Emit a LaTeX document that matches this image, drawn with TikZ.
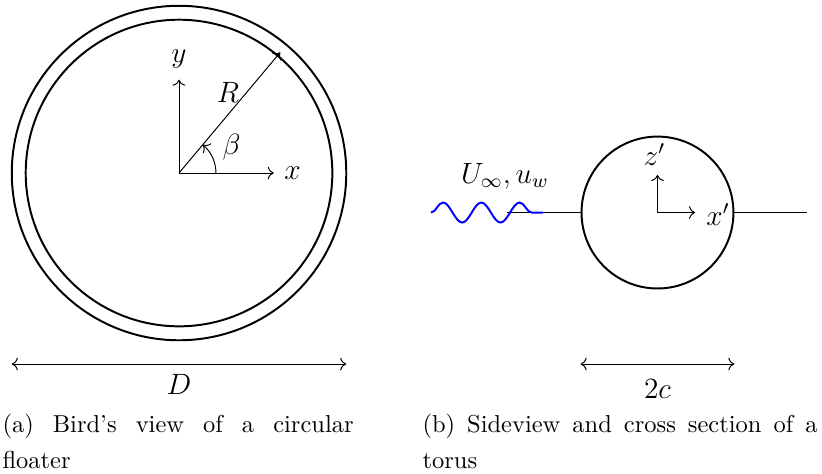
\documentclass[tikz,border=0pt]{standalone}
\usepackage{amsmath,amssymb}
\usetikzlibrary{arrows.meta, positioning, calc, decorations.pathmorphing}
\tikzset{
  ringline/.style={thick},
  axisarrow/.style={->},
  dimarrow/.style={<->},
  flowline/.style={thin},
  wavepath/.style={thick, blue, decorate,
                   decoration={snake, amplitude=0.1435cm, segment length=0.55cm}},
  symlabel/.style={inner sep=0pt, anchor=base, font=\large},
  axlabel/.style={font=\large},
  captext/.style={anchor=north west, inner sep=0pt, align=justify,
                  font={\fontsize{10}{14.6}\selectfont}}
}

\begin{document}
\begin{tikzpicture}
  \useasboundingbox (-2.569,-4.319) rectangle (9.227,2.483);

  % (a) bird's view of the floater
  \coordinate (O) at (0,0);
  \draw[ringline] (O) circle (2.40);
  \draw[ringline] (O) circle (2.20);
  \coordinate (yend) at (0,1.34);
  \coordinate (xend) at (1.36,0);
  \coordinate (Rend) at (50:2.26);
  \coordinate (betastart) at (0.53,0);
  \draw[axisarrow] (O) -- (yend);
  \draw[axisarrow] (O) -- (xend);
  \draw[axisarrow] (O) -- (Rend);
  \draw[axisarrow] (betastart) arc[start angle=0, end angle=50, radius=0.53];
  \node[axlabel] (ylab) at (0,1.636) {$y$};
  \node[axlabel] (xlab) at (1.629,0) {$x$};
  \node[axlabel] (Rlab) at (0.703,1.155) {$R$};
  \node[axlabel] (betalab) at (0.753,0.373) {$\beta$};

  \coordinate (Dleft) at (-2.40,-2.741);
  \coordinate (Dright) at (2.40,-2.741);
  \draw[dimarrow] (Dleft) -- (Dright);
  \node[symlabel] (Dlab) at (0,-3.185) {$D$};

  \node[captext, text width=5.04cm] (capA) at (-2.54,-3.452)
      {(a) Bird's view of a circular floater};

  % (b) sideview and cross section
  \node[circle, draw, thick, minimum size=2.18cm, inner sep=0pt] (torus) at (6.866,-0.567) {};
  \coordinate (inflow) at (4.707,-0.567);
  \coordinate (outflow) at (9.012,-0.567);
  \coordinate (wavestart) at (3.616,-0.567);
  \coordinate (waveend) at (5.223,-0.567);
  \draw[flowline] (inflow) -- (torus.west);
  \draw[flowline] (torus.east) -- (outflow);
  \draw[wavepath] (wavestart) -- (waveend);
  \node[symlabel] (Ulab) at (4.678,-0.1435) {$U_\infty, u_w$};

  \coordinate (zend) at ($(torus.center)+(0,0.54)$);
  \coordinate (xpend) at ($(torus.center)+(0.54,0)$);
  \draw[axisarrow] (torus.center) -- (zend);
  \draw[axisarrow] (torus.center) -- (xpend);
  \node[symlabel] (zlab) at (6.823,0.115) {$z'$};
  \node[symlabel] (xplab) at (7.735,-0.746) {$x'$};

  \coordinate (cleft) at (torus.west |- 0,-2.741);
  \coordinate (cright) at (torus.east |- 0,-2.741);
  \draw[dimarrow] (cleft) -- (cright);
  \node[symlabel] (clab) at (6.866,-3.229) {$2c$};

  \node[captext, text width=5.67cm] (capB) at (3.487,-3.452)
      {(b) Sideview and cross section of a torus};
\end{tikzpicture}
\end{document}
